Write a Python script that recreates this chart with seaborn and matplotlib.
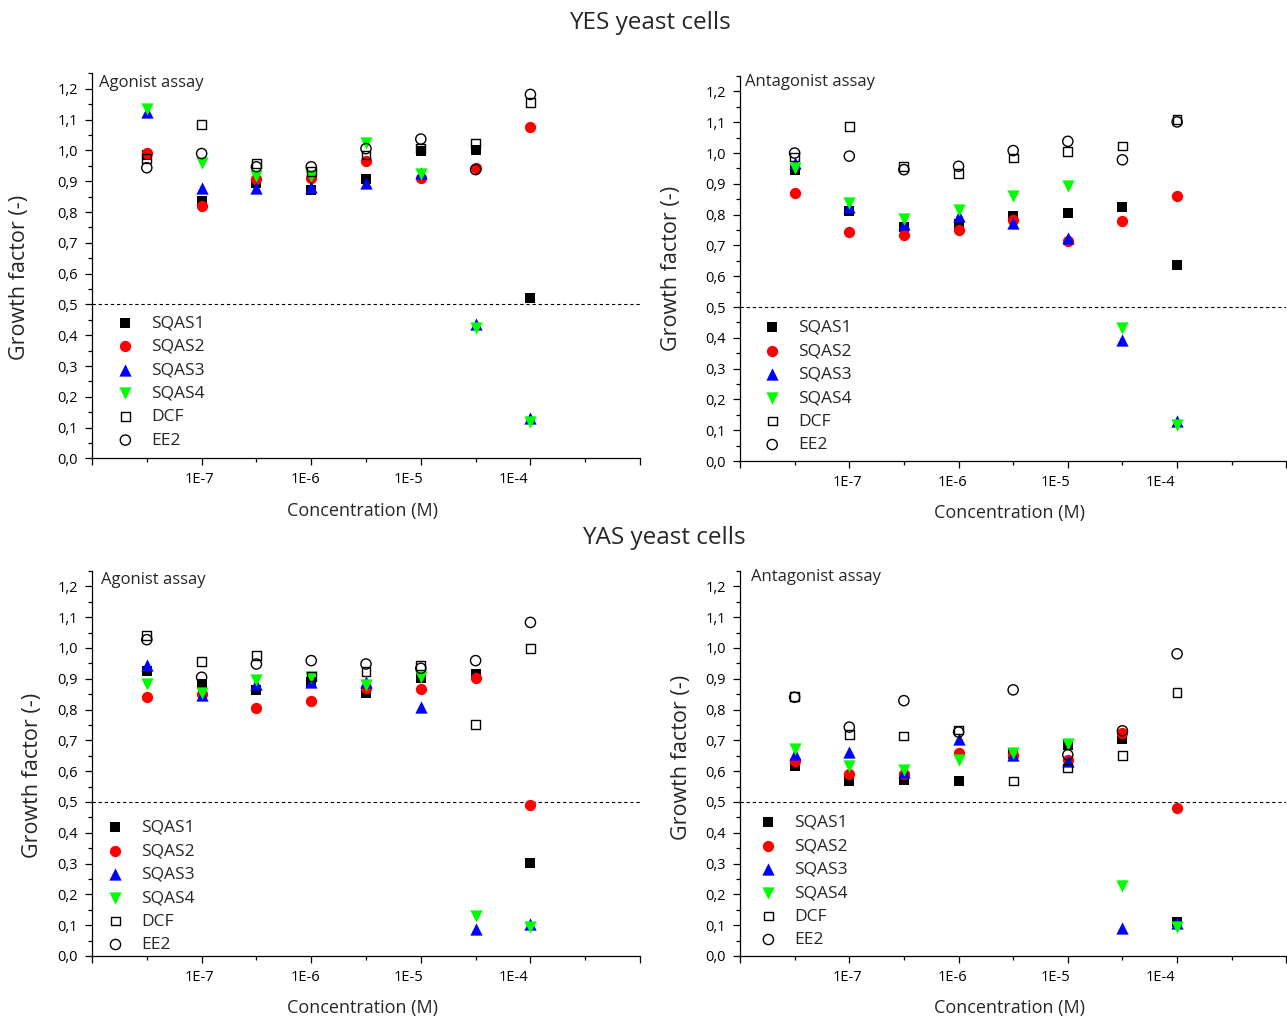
"""
Growth factor of YES / YAS yeast cells vs. concentration
(agonist and antagonist assays, four SQAS samples + DCF and EE2 references)
Output: out.png
"""

import numpy as np
import pandas as pd
import matplotlib
matplotlib.use('Agg')
import matplotlib.pyplot as plt
import matplotlib.ticker as mticker
import matplotlib.transforms as mtransforms
import seaborn as sns

# --- CONFIG ---
sns.set_theme(style="ticks")
plt.rcParams['font.family'] = ['Open Sans', 'DejaVu Sans']
plt.rcParams['axes.linewidth'] = 0.9
plt.rcParams['axes.edgecolor'] = 'black'
plt.rcParams['xtick.color'] = 'black'
plt.rcParams['ytick.color'] = 'black'

# --- DATA ---
conc = [3.16e-8, 1e-7, 3.16e-7, 1e-6, 3.16e-6, 1e-5, 3.16e-5, 1e-4]
series = ['SQAS1', 'SQAS2', 'SQAS3', 'SQAS4', 'DCF', 'EE2']

# YES - agonist
yes_ago_sqas1 = [0.985, 0.837, 0.893, 0.871, 0.909, 0.999, 1.001, 0.522]
yes_ago_sqas2 = [0.992, 0.820, 0.906, 0.910, 0.966, 0.912, 0.944, 1.077]
yes_ago_sqas3 = [1.125, 0.877, 0.877, 0.882, 0.893, 0.927, 0.438, 0.130]
yes_ago_sqas4 = [1.135, 0.958, 0.917, 0.917, 1.023, 0.923, 0.425, 0.119]
yes_ago_dcf = [0.974, 1.084, 0.958, 0.933, 0.985, 1.006, 1.023, 1.156]
yes_ago_ee2 = [0.944, 0.990, 0.947, 0.947, 1.006, 1.037, 0.938, 1.182]

# YES - antagonist
yes_ant_sqas1 = [0.946, 0.813, 0.761, 0.770, 0.794, 0.805, 0.826, 0.638]
yes_ant_sqas2 = [0.871, 0.742, 0.734, 0.751, 0.781, 0.715, 0.779, 0.862]
yes_ant_sqas3 = [0.967, 0.824, 0.770, 0.794, 0.772, 0.723, 0.393, 0.130]
yes_ant_sqas4 = [0.951, 0.837, 0.785, 0.816, 0.861, 0.894, 0.433, 0.116]
yes_ant_dcf = [0.987, 1.086, 0.957, 0.933, 0.984, 1.005, 1.023, 1.108]
yes_ant_ee2 = [1.000, 0.990, 0.946, 0.957, 1.008, 1.038, 0.978, 1.101]

# YAS - agonist
yas_ago_sqas1 = [0.924, 0.883, 0.864, 0.889, 0.853, 0.903, 0.916, 0.303]
yas_ago_sqas2 = [0.840, 0.849, 0.805, 0.827, 0.870, 0.866, 0.902, 0.491]
yas_ago_sqas3 = [0.945, 0.846, 0.883, 0.891, 0.889, 0.808, 0.087, 0.104]
yas_ago_sqas4 = [0.883, 0.853, 0.896, 0.907, 0.880, 0.907, 0.130, 0.093]
yas_ago_dcf = [1.040, 0.957, 0.975, 0.908, 0.924, 0.943, 0.752, 0.998]
yas_ago_ee2 = [1.027, 0.905, 0.948, 0.959, 0.948, 0.934, 0.959, 1.083]

# YAS - antagonist
yas_ant_sqas1 = [0.616, 0.568, 0.572, 0.567, 0.655, 0.684, 0.705, 0.111]
yas_ant_sqas2 = [0.633, 0.590, 0.592, 0.659, 0.653, 0.637, 0.724, 0.479]
yas_ant_sqas3 = [0.657, 0.662, 0.597, 0.705, 0.654, 0.633, 0.092, 0.106]
yas_ant_sqas4 = [0.673, 0.616, 0.605, 0.637, 0.659, 0.689, 0.227, 0.095]
yas_ant_dcf = [0.842, 0.719, 0.714, 0.734, 0.568, 0.610, 0.650, 0.855]
yas_ant_ee2 = [0.840, 0.743, 0.829, 0.727, 0.864, 0.653, 0.731, 0.981]

xtick_vals = [1e-8, 1e-7, 1e-6, 1e-5, 1e-4, 1e-3]
xtick_labels = ['', '1E-7', '1E-6', '1E-5', '1E-4', '']
xminor_vals = [3.16e-8, 3.16e-7, 3.16e-6, 3.16e-5, 3.16e-4]

# the original (Origin export) draws the decade labels a bit left of their ticks
xlabel_shift_px = [0, -2, -6, -12, -17, 0]

# marker style per series: (marker, colour, size, open)
styles = {
    'SQAS1': ('s', '#000000', 52, False),
    'SQAS2': ('o', '#FF0000', 66, False),
    'SQAS3': ('^', '#0000FF', 78, False),
    'SQAS4': ('v', '#00FF00', 78, False),
    'DCF':   ('s', '#000000', 40, True),
    'EE2':   ('o', '#000000', 54, True),
}

panels = [
    dict(rect=[0.0715, 0.5514, 0.4258, 0.3767], title='Agonist assay',
         data=[yes_ago_sqas1, yes_ago_sqas2, yes_ago_sqas3, yes_ago_sqas4, yes_ago_dcf, yes_ago_ee2],
         ylab=(-0.133, 0.47), leg=(0.045, 0.372), txt=(0.013, 0.975)),
    dict(rect=[0.575, 0.5489, 0.4245, 0.3767], title='Antagonist assay',
         data=[yes_ant_sqas1, yes_ant_sqas2, yes_ant_sqas3, yes_ant_sqas4, yes_ant_dcf, yes_ant_ee2],
         ylab=(-0.125, 0.50), leg=(0.043, 0.367), txt=(0.009, 0.984)),
    dict(rect=[0.0715, 0.0646, 0.4258, 0.3767], title='Agonist assay',
         data=[yas_ago_sqas1, yas_ago_sqas2, yas_ago_sqas3, yas_ago_sqas4, yas_ago_dcf, yas_ago_ee2],
         ylab=(-0.108, 0.468), leg=(0.027, 0.354), txt=(0.016, 0.977)),
    dict(rect=[0.575, 0.0646, 0.4245, 0.3767], title='Antagonist assay',
         data=[yas_ant_sqas1, yas_ant_sqas2, yas_ant_sqas3, yas_ant_sqas4, yas_ant_dcf, yas_ant_ee2],
         ylab=(-0.108, 0.517), leg=(0.036, 0.367), txt=(0.020, 0.984)),
]

fig = plt.figure(figsize=(12.87, 10.22), dpi=100)

for p in panels:
    ax = fig.add_axes(p['rect'])
    df = pd.DataFrame({'conc': np.tile(conc, len(series)),
                       'gf': np.concatenate(p['data']),
                       'sample': np.repeat(series, len(conc))})

    ax.axhline(0.5, color='black', linestyle=(0, (3, 2.5)), linewidth=0.8, zorder=1)

    for name in series:
        marker, color, size, is_open = styles[name]
        sub = df[df['sample'] == name]
        sns.scatterplot(data=sub, x='conc', y='gf', marker=marker, color=color,
                        s=size, linewidth=0, ax=ax, label=name, zorder=3)
        if is_open:
            pc = ax.collections[-1]
            pc.set_facecolor('none')
            pc.set_edgecolor('black')
            pc.set_linewidth(1.0)

    ax.set_xscale('log')
    ax.set_xlim(1e-8, 1e-3)
    ax.set_ylim(0, 1.25)
    ax.xaxis.set_major_locator(mticker.FixedLocator(xtick_vals))
    ax.xaxis.set_major_formatter(mticker.FixedFormatter(xtick_labels))
    ax.xaxis.set_minor_locator(mticker.FixedLocator(xminor_vals))
    ax.xaxis.set_minor_formatter(mticker.NullFormatter())
    ax.yaxis.set_major_locator(mticker.MultipleLocator(0.1))
    ax.yaxis.set_minor_locator(mticker.MultipleLocator(0.05))
    ax.yaxis.set_major_formatter(mticker.FuncFormatter(lambda v, _: f'{v:.1f}'.replace('.', ',')))
    ax.tick_params(which='major', direction='out', length=5, width=0.9, labelsize=10.5, pad=5)
    ax.tick_params(which='minor', direction='out', length=3, width=0.9)

    for tick, dx in zip(ax.xaxis.get_major_ticks(), xlabel_shift_px):
        shift = mtransforms.ScaledTranslation(dx / fig.dpi, 0, fig.dpi_scale_trans)
        tick.label1.set_transform(tick.label1.get_transform() + shift)

    sns.despine(ax=ax)
    ax.set_xlabel('Concentration (M)', fontsize=13, va='center')
    ax.xaxis.set_label_coords(0.493, -0.136)
    ax.set_ylabel('Growth factor (-)', fontsize=15.5, va='center')
    ax.yaxis.set_label_coords(*p['ylab'])

    ax.text(p['txt'][0], p['txt'][1], p['title'], transform=ax.transAxes,
            ha='left', va='center', fontsize=12)

    ax.legend(loc='upper left', bbox_to_anchor=p['leg'], frameon=False, fontsize=12.5,
              handlelength=1.0, handletextpad=1.0, labelspacing=0.42,
              borderpad=0, borderaxespad=0, scatterpoints=1)

fig.text(0.505, 1 - 23 / 1022, 'YES yeast cells', ha='center', va='center', fontsize=17.5)
fig.text(0.516, 1 - 538 / 1022, 'YAS yeast cells', ha='center', va='center', fontsize=17.5)

plt.savefig('out.png', dpi=100)
plt.close()
